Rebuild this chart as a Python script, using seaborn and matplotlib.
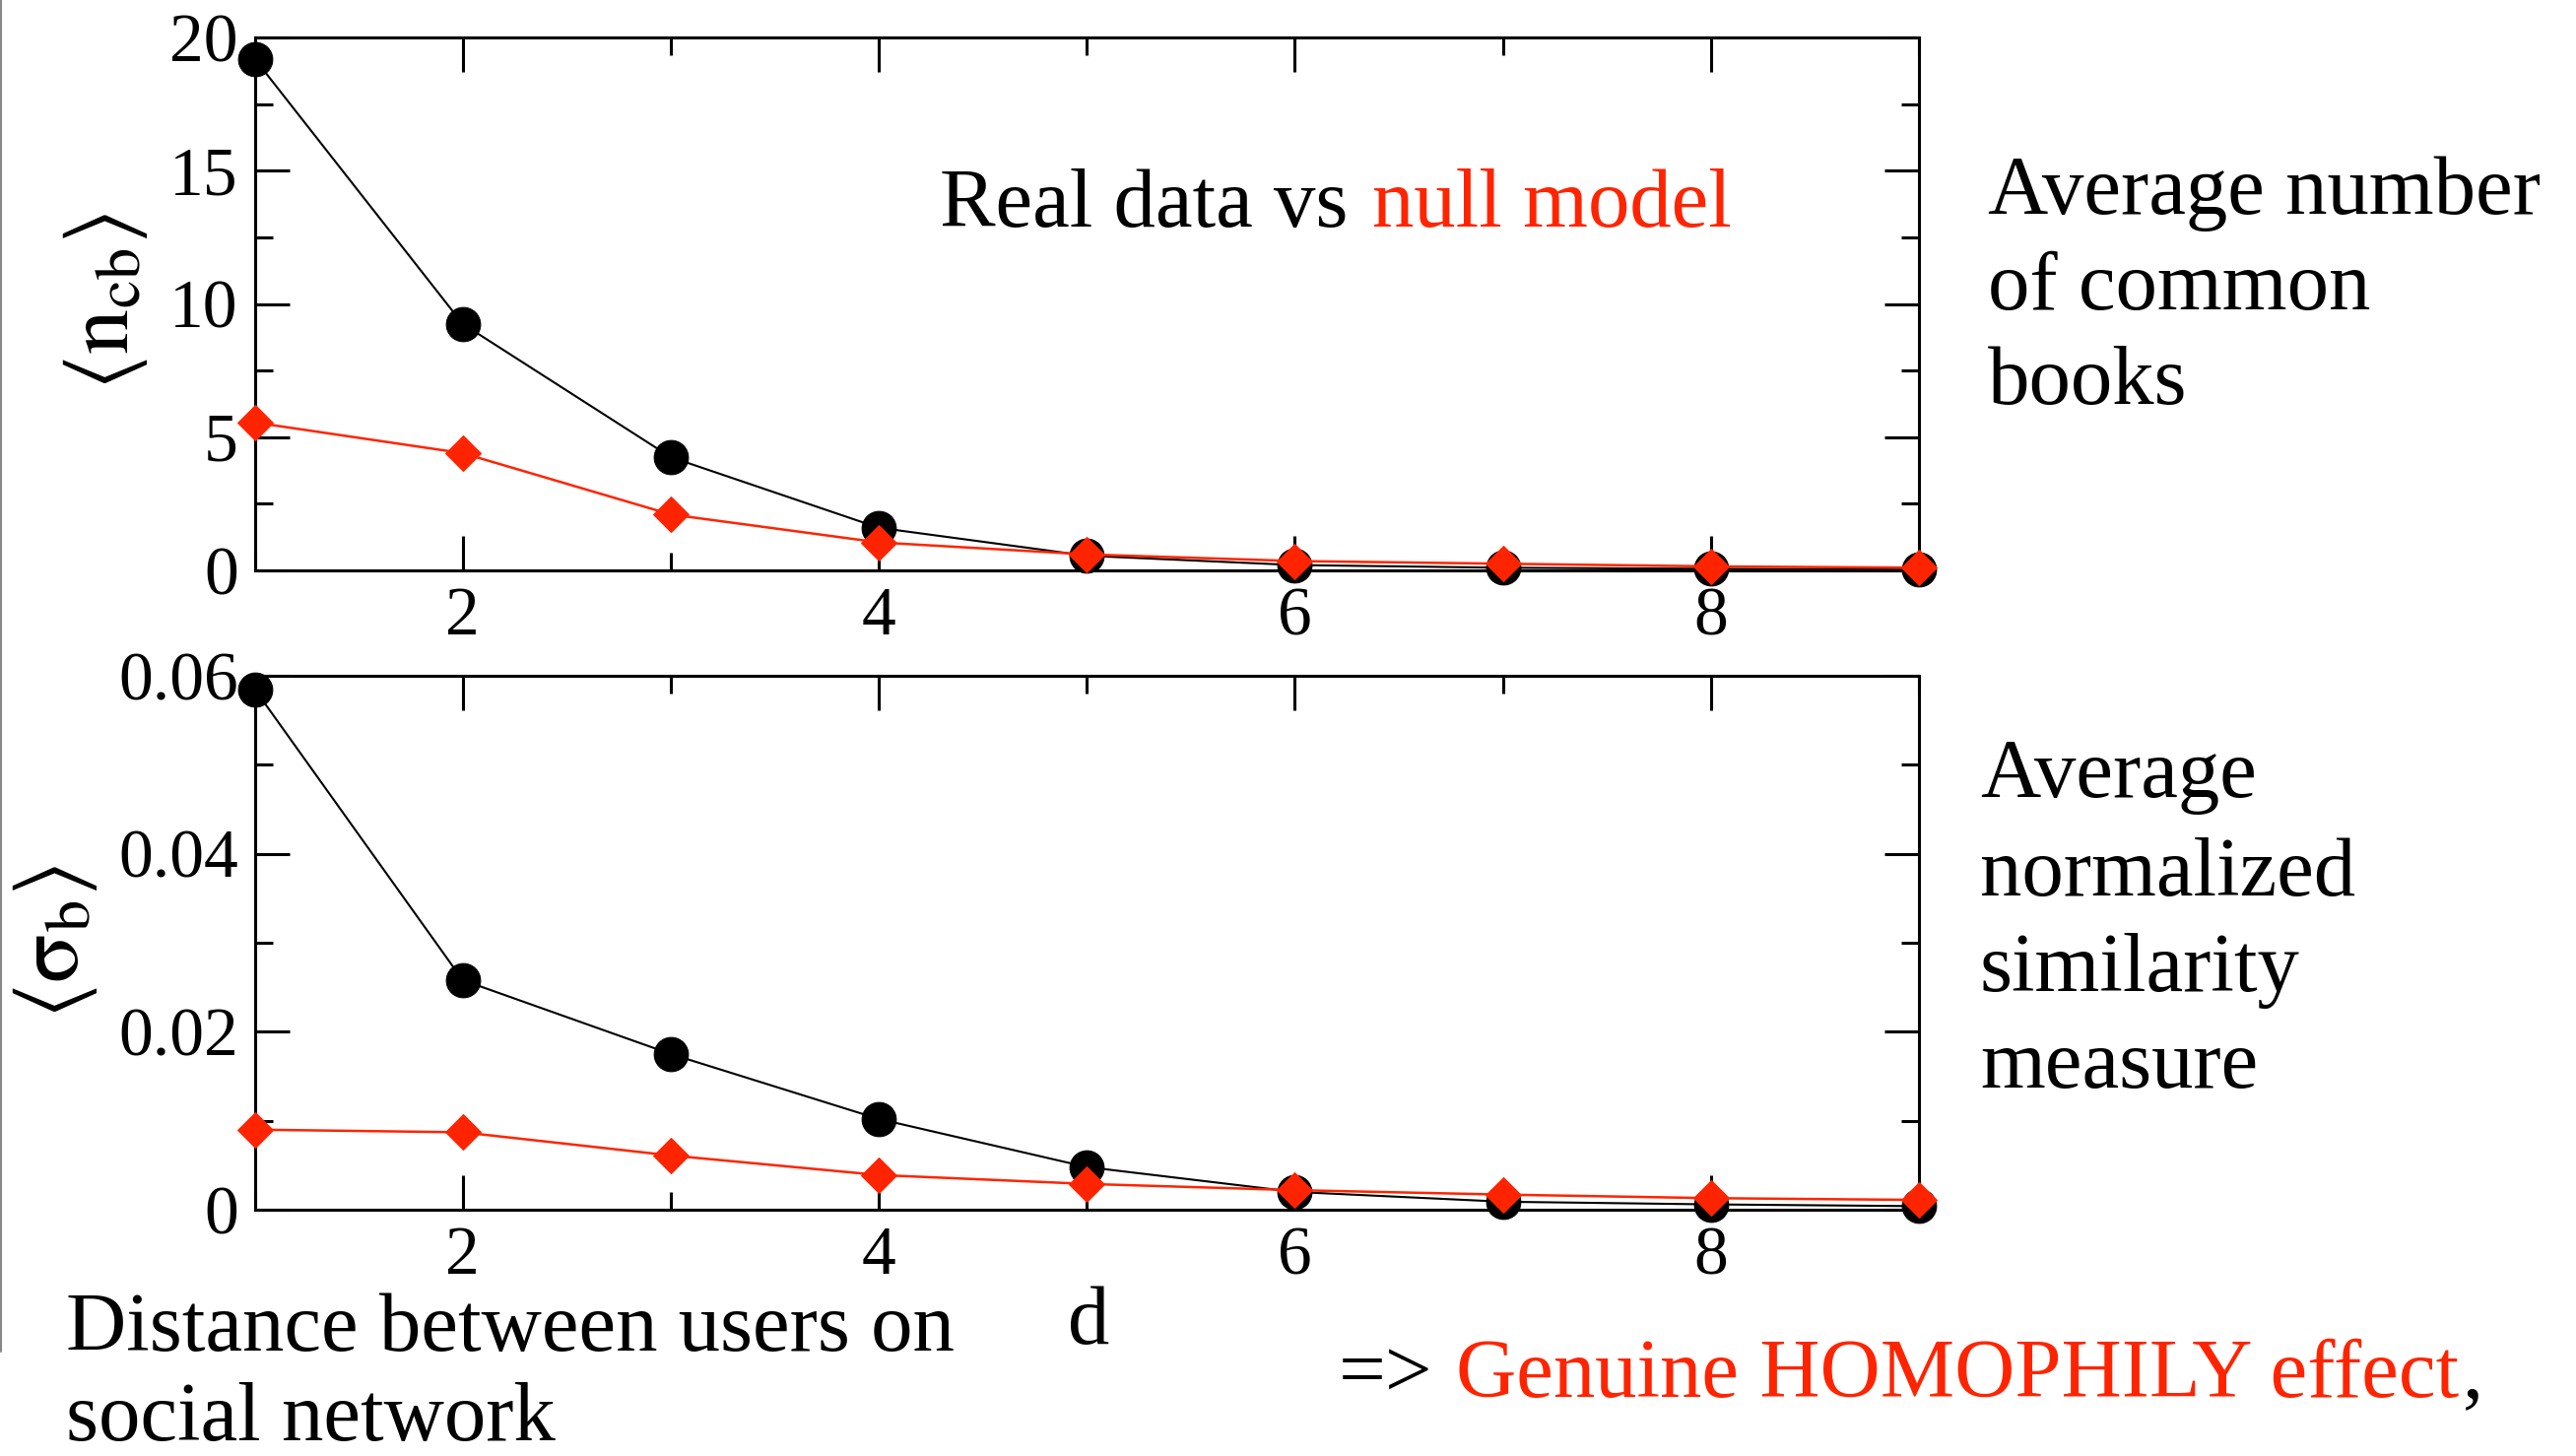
import numpy as np
import pandas as pd
import matplotlib
matplotlib.use("Agg")
import matplotlib.pyplot as plt
from matplotlib.ticker import MultipleLocator, FuncFormatter
from matplotlib.lines import Line2D
import seaborn as sns

# ---------------- data ----------------
distance = [1, 2, 3, 4, 5, 6, 7, 8, 9]
ncb_real = [19.2, 9.25, 4.25, 1.6, 0.55, 0.2, 0.1, 0.06, 0.03]
ncb_null = [5.55, 4.4, 2.1, 1.05, 0.6, 0.35, 0.25, 0.15, 0.1]
sigma_real = [0.0585, 0.0258, 0.0175, 0.0102, 0.0048, 0.0020, 0.0009, 0.0006, 0.0004]
sigma_null = [0.0090, 0.0087, 0.0061, 0.0039, 0.0029, 0.0022, 0.0017, 0.0013, 0.0011]

xticks_major = [2, 4, 6, 8]
ncb_ticks = [0, 5, 10, 15, 20]
sigma_ticks = [0, 0.02, 0.04, 0.06]

RED = "#FF2400"
W, H = 2615, 1478

sns.set_style("ticks")
plt.rcParams["font.family"] = ["Liberation Serif", "DejaVu Serif"]
plt.rcParams["mathtext.fontset"] = "stix"
plt.rcParams["text.color"] = "black"
plt.rcParams["axes.labelcolor"] = "black"
plt.rcParams["xtick.color"] = "black"
plt.rcParams["ytick.color"] = "black"
plt.rcParams["axes.edgecolor"] = "black"

fig = plt.figure(figsize=(W / 100, H / 100), dpi=100)
fig.patch.set_facecolor("white")


def fx(px):
    return px / W


def fy(py):
    return 1 - py / H


left, right = 258.5, 1948
ax1 = fig.add_axes([fx(left), fy(579), fx(right - left), (579 - 38) / H])
ax2 = fig.add_axes([fx(left), fy(1228), fx(right - left), (1228 - 686) / H])

df1 = pd.DataFrame({"d": distance, "real": ncb_real, "null": ncb_null})
df2 = pd.DataFrame({"d": distance, "real": sigma_real, "null": sigma_null})


def fmt(v, pos):
    if abs(v) < 1e-12:
        return "0"
    return f"{v:g}"


for ax, df, yt, ymax, ystep_minor in [
    (ax1, df1, ncb_ticks, 20, 2.5),
    (ax2, df2, sigma_ticks, 0.06, 0.01),
]:
    sns.lineplot(data=df, x="d", y="real", ax=ax, color="black", lw=1.5,
                 marker="o", markersize=25, markerfacecolor="black",
                 markeredgecolor="black", clip_on=False, zorder=3)
    sns.lineplot(data=df, x="d", y="null", ax=ax, color=RED, lw=1.8,
                 marker="D", markersize=18.5, markerfacecolor=RED,
                 markeredgecolor=RED, clip_on=False, zorder=4)
    ax.set_xlim(1, 9)
    ax.set_ylim(0, ymax)
    ax.set_xticks(xticks_major)
    ax.xaxis.set_minor_locator(MultipleLocator(1))
    ax.set_yticks(yt)
    ax.yaxis.set_minor_locator(MultipleLocator(ystep_minor))
    ax.yaxis.set_major_formatter(FuncFormatter(fmt))
    ax.set_xlabel("")
    ax.set_ylabel("")
    ax.tick_params(which="both", direction="in", top=True, right=True,
                   labeltop=False, labelright=False, width=2.2, colors="black")
    ax.tick_params(which="major", length=25, labelsize=50, pad=12)
    ax.tick_params(which="minor", length=13)
    for s in ax.spines.values():
        s.set_linewidth(2.2)
        s.set_color("black")
        s.set_visible(True)
    ax.set_facecolor("white")

# y labels
fig.text(fx(107), fy(306), r"$\langle\mathrm{n}_{\mathrm{cb}}\rangle$", rotation=90,
         ha="center", va="center", fontsize=66)
fig.text(fx(56), fy(956), r"$\langle\mathrm{\sigma}_{\mathrm{b}}\rangle$", rotation=90,
         ha="center", va="center", fontsize=66)

FS = 61
# annotation in top panel
fig.text(fx(954), fy(230), "Real data vs", fontsize=FS, va="baseline", ha="left")
fig.text(fx(1393), fy(230), "null model", fontsize=FS, va="baseline", ha="left", color=RED)

# right-side descriptions
for txt, by in [("Average number", 217), ("of common", 314), ("books", 410)]:
    fig.text(fx(2018), fy(by), txt, fontsize=FS, va="baseline", ha="left")
for txt, by in [("Average", 809), ("normalized", 909), ("similarity", 1006), ("measure", 1104)]:
    fig.text(fx(2010), fy(by), txt, fontsize=FS, va="baseline", ha="left")

# bottom texts
fig.text(fx(67), fy(1371), "Distance between users on", fontsize=FS, va="baseline", ha="left")
fig.text(fx(67), fy(1462), "social network", fontsize=FS, va="baseline", ha="left")
fig.text(fx(1084), fy(1364), "d", fontsize=FS, va="baseline", ha="left")
fig.text(fx(1359), fy(1418), "=>", fontsize=FS, va="baseline", ha="left")
fig.text(fx(1478), fy(1418), "Genuine HOMOPHILY effect", fontsize=FS, va="baseline",
         ha="left", color=RED)
fig.text(fx(2500), fy(1418), ",", fontsize=FS, va="baseline", ha="left")

# thin gray line at left border
fig.add_artist(Line2D([fx(1), fx(1)], [fy(0), fy(1372)], color="#888888", lw=1.5))

fig.savefig("out.png", dpi=100, facecolor="white")
